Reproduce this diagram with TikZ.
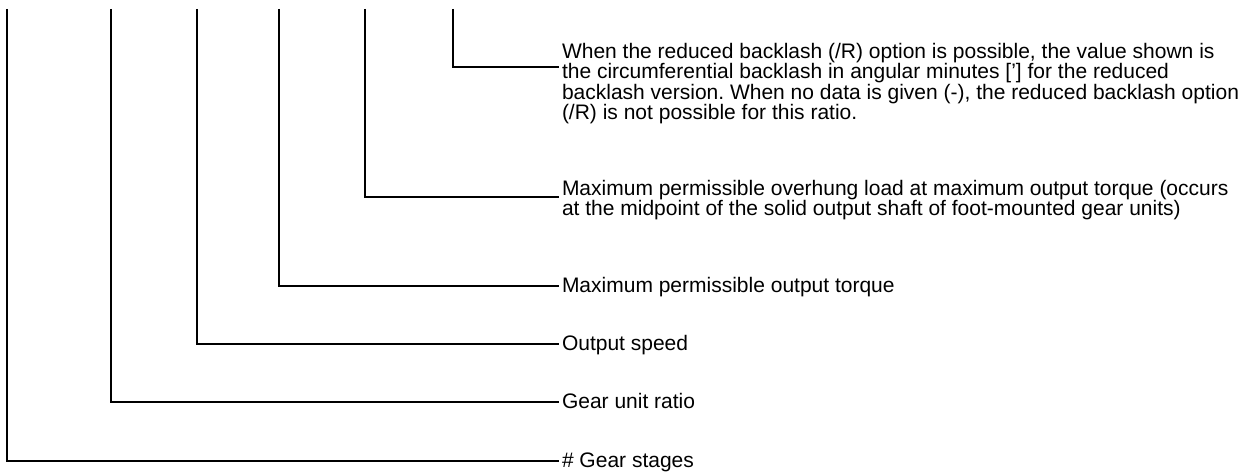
\documentclass[tikz,border=0pt]{standalone}
\usepackage{fontspec}
\setmainfont{Liberation Sans}
\begin{document}
\frenchspacing
\begin{tikzpicture}[x=1bp,y=-1bp,
  lead/.style={draw=black,line width=1.1bp},
  lbl/.style={inner sep=0pt,outer sep=0pt,align=left,anchor=base west,
    font=\fontsize{21bp}{19.3bp}\selectfont}]
\useasboundingbox (0,0) rectangle (1253,475);
% top ends of the leaders
\coordinate (s1) at (7,9);
\coordinate (s2) at (111,9);
\coordinate (s3) at (197,9);
\coordinate (s4) at (279,9);
\coordinate (s5) at (365,9);
\coordinate (s6) at (453,9);
% labels (base anchor = baseline of last line)
\node[lbl] (t1) at (562,468) {\# Gear stages};
\node[lbl] (t2) at (562,409) {Gear unit ratio};
\node[lbl] (t3) at (562,351) {Output speed};
\node[lbl] (t4) at (562,293) {Maximum permissible output torque};
\node[lbl] (t5) at (562,216) {Maximum permissible overhung load at maximum output torque (occurs\\at the midpoint of the solid output shaft of foot-mounted gear units)};
\node[lbl] (t6) at (562,120) {When the reduced backlash (/R) option is possible, the value shown is\\the circumferential backlash in angular minutes ['] for the reduced\\backlash version. When no data is given (-), the reduced backlash option\\(/R) is not possible for this ratio.};
% leader ends
\coordinate (e1) at (559,461);
\coordinate (e2) at (559,402);
\coordinate (e3) at (559,344);
\coordinate (e4) at (559,286);
\coordinate (e5) at (559,197);
\coordinate (e6) at (559,67);
\foreach \i in {1,...,6}{\draw[lead] (s\i) |- (e\i);}
\end{tikzpicture}
\end{document}
